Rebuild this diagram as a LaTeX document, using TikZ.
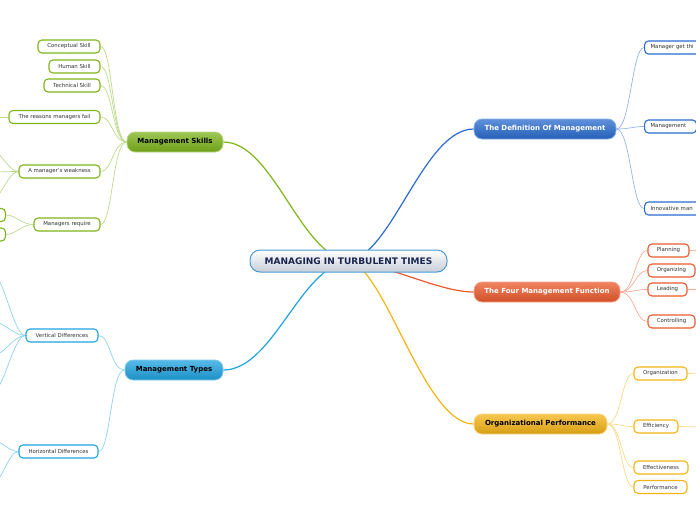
\documentclass[tikz,border=0pt]{standalone}
\usepackage{fontspec}
\setmainfont{DejaVu Sans}
\usetikzlibrary{backgrounds}
\definecolor{skillgreen}{HTML}{7DB51B}
\definecolor{typeblue}{HTML}{1FA3E0}
\definecolor{defblue}{HTML}{2A6CCF}
\definecolor{funcred}{HTML}{EC5A2C}
\definecolor{perfgold}{HTML}{F5B416}
\definecolor{rootline}{HTML}{4A9AD8}
\definecolor{rootink}{HTML}{1B2550}
\definecolor{rootfoot}{HTML}{C6CED8}
\begin{document}
\begin{tikzpicture}[x=1pt, y=-1pt, line cap=round, line join=round,
	root/.style={draw=rootline, line width=1pt, rounded corners=10pt, top color=white, bottom color=rootfoot, minimum width=197pt, minimum height=22pt, text=rootink, font=\bfseries\fontsize{9}{10}\selectfont},
	branch/.style={draw=#1!55!white, line width=0.8pt, rounded corners=8pt, top color=#1!75!white, bottom color=#1!88!black, minimum height=20pt, inner sep=1pt, font=\bfseries\fontsize{7}{8}\selectfont},
	leaf/.style={draw=#1, line width=1.1pt, rounded corners=4pt, fill=white, minimum height=13pt, inner sep=1pt, text=black!80, font=\fontsize{5.4}{6.4}\selectfont},
	trunk/.style={draw=#1, line width=1.2pt},
	twig/.style={draw=#1!50!white, line width=0.7pt}]
\useasboundingbox (0,0) rectangle (696,520);
\clip (0,0) rectangle (696,520);
% centre
\node[root] (turb) at (348.5,261) {MANAGING IN TURBULENT TIMES};
% main branches
\node[branch=skillgreen, minimum width=96pt] (skills) at (175,142) {Management Skills};
\node[branch=typeblue, minimum width=98pt] (types) at (174,370) {Management Types};
\node[branch=defblue, minimum width=142pt, text=white] (defn) at (545,129) {The Definition Of Management};
\node[branch=funcred, minimum width=146pt, text=white] (func) at (547,292) {The Four Management Function};
\node[branch=perfgold, minimum width=133pt] (perf) at (540.5,424) {Organizational Performance};
% skills
\node[leaf=skillgreen, minimum width=62pt] (concept) at (69,46.5) {Conceptual Skill};
\node[leaf=skillgreen, minimum width=51pt] (human) at (74.5,66.5) {Human Skill};
\node[leaf=skillgreen, minimum width=56pt] (tech) at (72,85.5) {Technical Skill};
\node[leaf=skillgreen, minimum width=91pt] (fail) at (54.5,117) {The reasons managers fail};
\node[leaf=skillgreen, minimum width=81pt] (weak) at (59.5,171.5) {A manager's weakness};
\node[leaf=skillgreen, minimum width=66pt] (req) at (67,224.5) {Managers require};
\node[leaf=skillgreen, minimum width=40pt, anchor=east] (reqa) at (6,215) {};
\node[leaf=skillgreen, minimum width=40pt, anchor=east] (reqb) at (6,234.5) {};
\coordinate (failout) at (-8,117);
\coordinate (weaka) at (-8,150);
\coordinate (weakb) at (-8,172);
\coordinate (weakc) at (-8,200);
% types
\node[leaf=typeblue, minimum width=72pt] (vert) at (62,335.5) {Vertical Differences};
\node[leaf=typeblue, minimum width=79pt] (horiz) at (58.5,451.5) {Horizontal Differences};
\coordinate (verta) at (-6,276);
\coordinate (vertb) at (-6,322);
\coordinate (vertc) at (-6,355);
\coordinate (vertd) at (-6,390);
\coordinate (horiza) at (-6,441);
\coordinate (horizb) at (-6,482);
% definition
\node[leaf=defblue, anchor=west, inner xsep=6pt, text width=60pt, align=left] (getthings) at (644,47.5) {Manager get thi};
\node[leaf=defblue, anchor=west, inner xsep=6pt, text width=40pt, align=left] (mgmt) at (644,126.5) {Management};
\node[leaf=defblue, anchor=west, inner xsep=6pt, text width=60pt, align=left] (innov) at (644,208.5) {Innovative man};
% functions
\node[leaf=funcred, minimum width=41pt] (plan) at (668.5,250.5) {Planning};
\node[leaf=funcred, minimum width=47pt] (org) at (671.5,270.5) {Organizing};
\node[leaf=funcred, minimum width=39pt] (lead) at (667.5,289.5) {Leading};
\node[leaf=funcred, minimum width=47pt] (ctrl) at (671.5,321.5) {Controlling};
\coordinate (planout) at (704,251);
\coordinate (leadout) at (704,289.5);
% performance
\node[leaf=perfgold, minimum width=53pt] (orgn) at (660.5,373.5) {Organization};
\node[leaf=perfgold, minimum width=44pt] (effi) at (656,426.5) {Efficiency};
\node[leaf=perfgold, minimum width=54pt] (effe) at (661,467.5) {Effectiveness};
\node[leaf=perfgold, minimum width=53pt] (perfm) at (660.5,487) {Performance};
\coordinate (orgnout) at (704,373);
\coordinate (effiout) at (704,427);
\begin{scope}[on background layer]
% trunks
\draw[trunk=skillgreen] (turb.center) .. controls (300,255) and (273,142) .. (skills.east);
\draw[trunk=typeblue] (turb.center) .. controls (300,267) and (273,370) .. (types.east);
\draw[trunk=defblue] (turb.center) .. controls (392,255) and (424,129) .. (defn.west);
\draw[trunk=funcred] (turb.center) .. controls (392,266) and (440,292) .. (func.west);
\draw[trunk=perfgold] (turb.center) .. controls (385,267) and (424,424) .. (perf.west);
% skills twigs
\foreach \n in {concept,human,tech,fail,weak,req}
	\draw[twig=skillgreen] (skills.west) .. controls +(-14,0) and +(12,0) .. (\n.east);
\draw[twig=skillgreen] (fail.west) -- (failout);
\foreach \n in {weaka,weakb,weakc}
	\draw[twig=skillgreen] (weak.west) .. controls +(-10,0) and +(8,0) .. (\n);
\foreach \n in {reqa,reqb}
	\draw[twig=skillgreen] (req.west) .. controls +(-12,0) and +(10,0) .. (\n.east);
% types twigs
\foreach \n in {vert,horiz}
	\draw[twig=typeblue] (types.west) .. controls +(-14,0) and +(12,0) .. (\n.east);
\foreach \n in {verta,vertb,vertc,vertd}
	\draw[twig=typeblue] (vert.west) .. controls +(-12,0) and +(10,0) .. (\n);
\foreach \n in {horiza,horizb}
	\draw[twig=typeblue] (horiz.west) .. controls +(-10,0) and +(8,0) .. (\n);
% right twigs
\foreach \n in {getthings,mgmt,innov}
	\draw[twig=defblue] (defn.east) .. controls +(14,0) and +(-12,0) .. (\n.west);
\foreach \n in {plan,org,lead,ctrl}
	\draw[twig=funcred] (func.east) .. controls +(14,0) and +(-12,0) .. (\n.west);
\foreach \n in {orgn,effi,effe,perfm}
	\draw[twig=perfgold] (perf.east) .. controls +(14,0) and +(-12,0) .. (\n.west);
\draw[twig=funcred] (plan.east) -- (planout);
\draw[twig=funcred] (lead.east) -- (leadout);
\draw[twig=perfgold] (orgn.east) -- (orgnout);
\draw[twig=perfgold] (effi.east) -- (effiout);
\end{scope}
\end{tikzpicture}
\end{document}
